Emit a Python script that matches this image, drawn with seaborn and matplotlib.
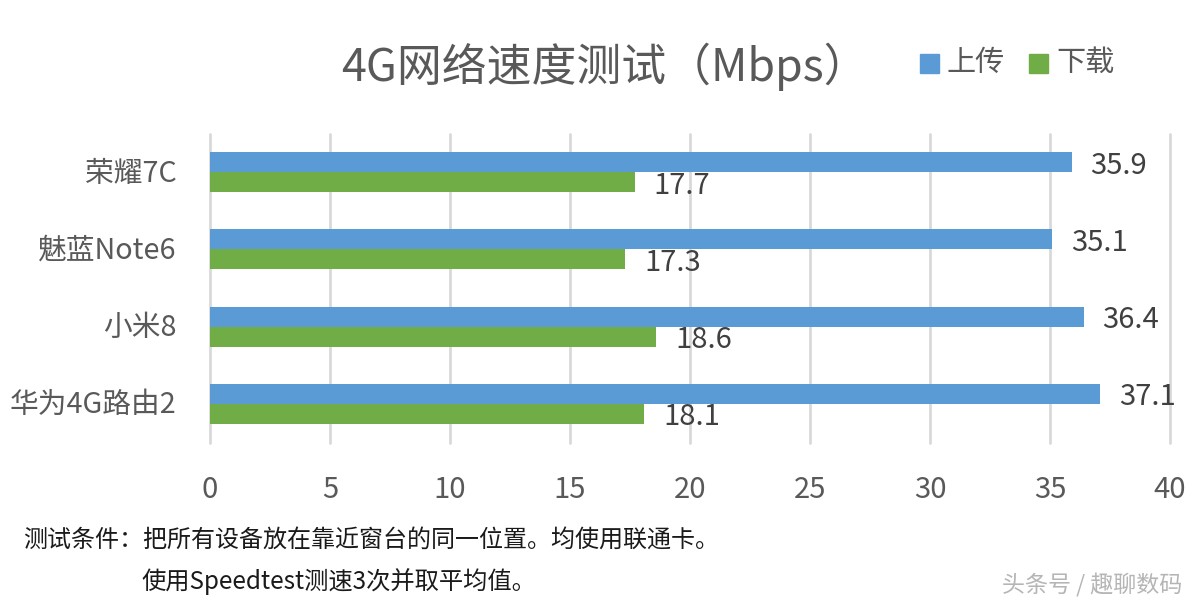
import pandas as pd
import seaborn as sns
import matplotlib.pyplot as plt
from matplotlib.transforms import ScaledTranslation

devices = ["荣耀7C", "魅蓝Note6", "小米8", "华为4G路由2"]
upload = [35.9, 35.1, 36.4, 37.1]
download = [17.7, 17.3, 18.6, 18.1]
series_names = ["上传", "下载"]
x_ticks = [0, 5, 10, 15, 20, 25, 30, 35, 40]

df = pd.DataFrame({"设备": devices * 2,
                   "速度": upload + download,
                   "类型": [series_names[0]] * 4 + [series_names[1]] * 4})

sns.set_theme(style="white")
plt.rcParams['font.family'] = ['Noto Sans CJK SC', 'DejaVu Sans']

W, H = 1197, 605
fig = plt.figure(figsize=(W / 100, H / 100), dpi=100)
ax = fig.add_axes([210 / W, 1 - 442.5 / H, 960 / W, 309 / H])

sns.barplot(data=df, y="设备", x="速度", hue="类型", order=devices,
            hue_order=series_names, palette=["#5B9BD5", "#70AD47"],
            width=0.52, gap=0, saturation=1, linewidth=0, legend=False, ax=ax)

ax.set_xlim(0, 40)
ax.set_ylim(3.5, -0.5)
ax.set_xticks(x_ticks)
ax.set_xlabel("")
ax.set_ylabel("")
ax.grid(axis="x", color="#D9D9D9", linewidth=2)
ax.set_axisbelow(True)
for line in ax.get_xgridlines():
    line.set_clip_on(False)
sns.despine(ax=ax, top=True, right=True, bottom=True, left=True)
ax.tick_params(axis="x", labelsize=21, labelcolor="#595959", length=0, pad=23.5)
ax.tick_params(axis="y", labelsize=20.7, labelcolor="#595959", length=0, pad=24)

# y labels sit slightly higher than centre in the original
up = ScaledTranslation(0, 2 / 100, fig.dpi_scale_trans)
for lab in ax.get_yticklabels():
    lab.set_transform(lab.get_transform() + up)

for bars in ax.containers:
    ax.bar_label(bars, fmt="%.1f", padding=13.5, fontsize=21, color="#404040")
# value labels hang a little below the bar centre
for t in ax.texts:
    t.xyann = (t.xyann[0], t.xyann[1] - 2.5)

fig.text(605 / W, 1 - 67 / H, "4G网络速度测试（Mbps）", fontsize=32.3, color="#595959",
         ha="center", va="center")

for x0, color, name, tx in [(920, "#5B9BD5", series_names[0], 947),
                            (1029, "#70AD47", series_names[1], 1056)]:
    fig.add_artist(plt.Rectangle((x0 / W, 1 - 73 / H), 19 / W, 19 / H, color=color,
                                 transform=fig.transFigure))
    fig.text(tx / W, 1 - 63 / H, name, fontsize=21, color="#595959", va="center")

fig.text(23 / W, 1 - 540 / H, "测试条件：把所有设备放在靠近窗台的同一位置。均使用联通卡。",
         fontsize=17.3, color="#1A1A1A", va="center")
fig.text(141 / W, 1 - 582 / H, "使用Speedtest测速3次并取平均值。",
         fontsize=17.5, color="#1A1A1A", va="center")
fig.text(1182 / W, 1 - 585 / H, "头条号 / 趣聊数码", fontsize=16.6, color="#B5B5B5",
         ha="right", va="center")

fig.savefig("out.png", dpi=100)
